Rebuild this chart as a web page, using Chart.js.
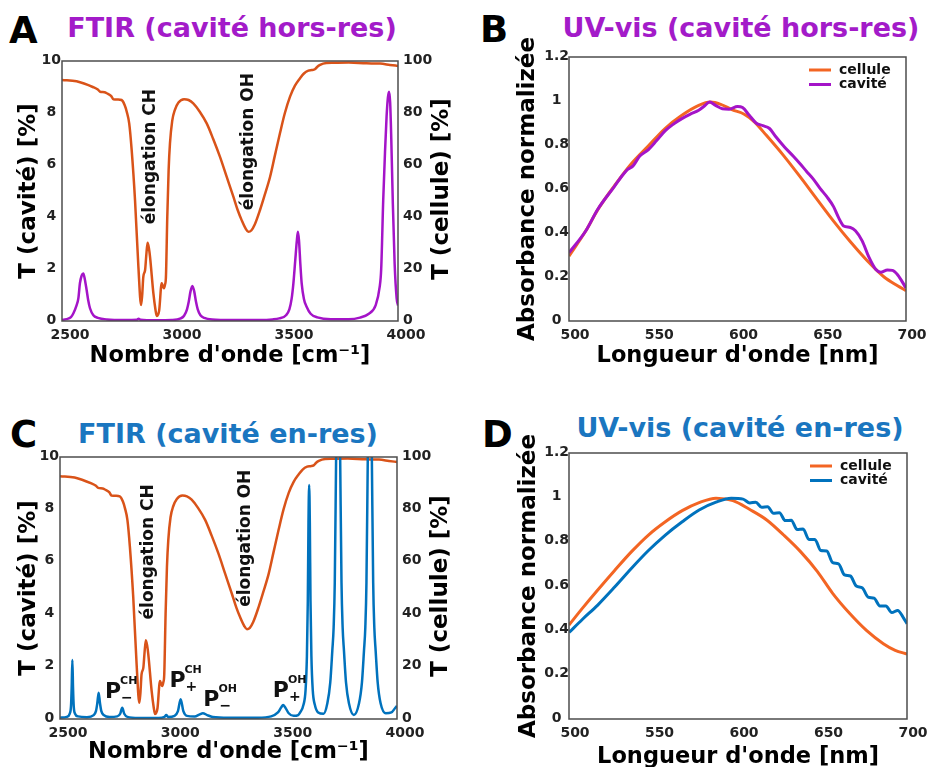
<!DOCTYPE html>
<html lang="fr">
<head>
<meta charset="utf-8">
<title>FTIR et UV-vis</title>
<script src="https://cdn.jsdelivr.net/npm/chart.js@4.4.1/dist/chart.umd.min.js"></script>
<style>
  html, body { margin: 0; padding: 0; background: #fff; }
  body { width: 929px; height: 767px; overflow: hidden; position: relative; font-family: "DejaVu Sans", sans-serif; }
  canvas, .lettre, .titre { position: absolute; }
  .lettre { font-weight: bold; font-size: 37px; line-height: 37px; color: #000; }
  .titre { font-weight: bold; font-size: 27px; line-height: 27px; width: 420px; text-align: center; white-space: nowrap; }
</style>
</head>
<body>
<div class="lettre" style="left:9px; top:12px">A</div>
<div class="titre" style="left:22px; top:14px; color:#a31bc9">FTIR (cavité hors-res)</div>
<div class="lettre" style="left:480px; top:11px">B</div>
<div class="titre" style="left:531px; top:14px; color:#a31bc9">UV-vis (cavité hors-res)</div>
<div class="lettre" style="left:10px; top:416px">C</div>
<div class="titre" style="left:18px; top:420px; color:#1a76c0">FTIR (cavité en-res)</div>
<div class="lettre" style="left:482px; top:416px">D</div>
<div class="titre" style="left:530px; top:414px; color:#1a76c0">UV-vis (cavité en-res)</div>

<canvas id="chartA" width="465" height="380" style="left:0; top:0"></canvas>
<canvas id="chartB" width="459" height="380" style="left:470px; top:0"></canvas>
<canvas id="chartC" width="465" height="380" style="left:0; top:400px"></canvas>
<canvas id="chartD" width="459" height="380" style="left:470px; top:400px"></canvas>

<script>
// FTIR cellule (axe de droite, %)
var ondeCellule = [2500, 2565, 2640, 2660, 2670, 2690, 2700, 2720, 2729, 2750, 2766, 2780, 2789, 2800, 2811, 2826, 2841, 2853, 2858, 2863, 2871, 2876, 2882, 2888, 2893, 2908, 2917, 2923, 2929, 2934, 2945, 2950, 2955, 2960, 2964, 2970, 2976, 2982, 2992, 3004, 3020, 3045, 3065, 3086, 3115, 3146, 3175, 3205, 3235, 3265, 3285, 3302, 3320, 3332, 3345, 3360, 3384, 3405, 3429, 3450, 3473, 3495, 3518, 3540, 3562, 3580, 3600, 3615, 3629, 3640, 3652, 3680, 3711, 3780, 3860, 3920, 3964, 4000];
var tCellule = [92.7, 92.2, 89.9, 89.0, 88.2, 88.0, 87.6, 86.5, 85.3, 85.2, 85.0, 83.0, 80.5, 76, 65.8, 46.5, 20.9, 6.2, 10, 17, 19.6, 25, 30.1, 28, 24.7, 10.6, 4.5, 1.9, 2.5, 4.2, 14.5, 13.5, 12.6, 14, 17, 40.1, 58, 68.3, 77, 81.2, 84, 85.3, 85, 83.7, 80.5, 76, 70, 63.2, 55.5, 47.8, 42.5, 38.8, 35.5, 34.3, 34.8, 37, 42.7, 48.5, 55.5, 63.5, 72.2, 80, 86.3, 90.5, 93.3, 95.2, 96.3, 96.5, 96.8, 97.8, 98.5, 99.2, 99.3, 99.4, 99.1, 99.0, 98.5, 98.1];

// FTIR cavité hors-res (axe de gauche)
var ondeHors = [2500, 2520, 2540, 2551, 2565, 2573, 2580, 2588, 2595, 2602, 2610, 2617, 2625, 2640, 2660, 2700, 2780, 2835, 2842, 2850, 2920, 2990, 3030, 3045, 3058, 3066, 3074, 3082, 3090, 3098, 3106, 3118, 3135, 3170, 3260, 3380, 3440, 3470, 3500, 3515, 3525, 3533, 3541, 3548, 3553, 3558, 3564, 3570, 3580, 3592, 3610, 3640, 3700, 3780, 3830, 3870, 3900, 3918, 3925, 3934, 3942, 3949, 3955, 3960, 3965, 3970, 3977, 3985, 3994, 4000];
var tHors = [0.04, 0.07, 0.15, 0.3, 0.6, 0.87, 1.45, 1.75, 1.83, 1.6, 1.19, 0.8, 0.49, 0.22, 0.12, 0.06, 0.04, 0.05, 0.09, 0.05, 0.03, 0.04, 0.1, 0.2, 0.45, 0.75, 1.15, 1.35, 1.15, 0.75, 0.45, 0.22, 0.12, 0.06, 0.04, 0.04, 0.06, 0.1, 0.22, 0.45, 0.85, 1.45, 2.3, 3.05, 3.43, 3.1, 2.2, 1.45, 0.85, 0.55, 0.28, 0.14, 0.07, 0.07, 0.13, 0.28, 0.6, 1.3, 2.0, 4.65, 6.5, 7.86, 8.6, 8.82, 8.4, 7.0, 4.5, 2.2, 0.87, 0.6];

// FTIR cavité en-res (axe de gauche)
var ondeEn = [2500, 2530, 2543, 2549, 2552, 2555, 2558, 2561, 2567, 2580, 2620, 2650, 2660, 2666, 2672, 2678, 2684, 2695, 2720, 2755, 2768, 2777, 2786, 2800, 2850, 2940, 2965, 2973, 2981, 3010, 3025, 3037, 3049, 3065, 3100, 3120, 3136, 3155, 3180, 3250, 3380, 3440, 3470, 3485, 3493, 3502, 3518, 3540, 3560, 3569, 3584, 3593, 3599, 3603, 3606, 3609, 3612, 3615, 3619, 3625, 3634, 3649, 3673, 3690, 3703, 3712, 3718, 3723, 3729, 3733, 3738, 3743, 3747, 3753, 3758, 3764, 3773, 3786, 3808, 3831, 3844, 3853, 3859, 3864, 3870, 3874, 3879, 3884, 3888, 3894, 3899, 3905, 3914, 3927, 3950, 3975, 3991, 4000];
var tEn = [0.05, 0.08, 0.2, 0.5, 1.2, 2.25, 1.2, 0.5, 0.2, 0.1, 0.07, 0.15, 0.3, 0.6, 1.0, 0.6, 0.3, 0.15, 0.08, 0.1, 0.2, 0.43, 0.2, 0.08, 0.04, 0.04, 0.08, 0.15, 0.08, 0.12, 0.3, 0.75, 0.3, 0.12, 0.1, 0.17, 0.22, 0.15, 0.08, 0.05, 0.05, 0.1, 0.25, 0.45, 0.53, 0.45, 0.22, 0.12, 0.15, 0.25, 0.55, 1.1, 2.4, 4.5, 7.5, 8.93, 7.5, 4.5, 2.4, 1.1, 0.55, 0.25, 0.2, 0.6, 1.4, 2.6, 3.5, 5.2, 10, 13, 15, 13, 10, 5.2, 3.5, 2.6, 1.4, 0.6, 0.15, 0.6, 1.4, 2.6, 3.5, 5.2, 10, 13, 15, 13, 10, 5.2, 3.5, 2.6, 1.4, 0.6, 0.22, 0.25, 0.41, 0.5];

// UV-vis hors-res
var lambdaCelluleB = [500, 510, 517, 527, 537, 547, 557, 567, 577, 584, 590, 597, 604, 610, 617, 627, 637, 647, 657, 667, 677, 687, 695, 700];
var absCelluleB = [0.295, 0.41, 0.505, 0.615, 0.715, 0.795, 0.875, 0.935, 0.98, 0.995, 0.985, 0.96, 0.94, 0.905, 0.845, 0.755, 0.657, 0.555, 0.454, 0.36, 0.274, 0.2, 0.16, 0.138];
var lambdaCaviteB = [500, 510, 517, 527, 532, 535, 538, 542, 547, 552, 557, 562, 567, 572, 577, 580, 583.5, 587, 591, 595, 600, 603, 607, 611, 615, 619, 623, 628, 633, 637, 641, 645, 649, 653, 657, 660, 663, 667, 670, 674, 678, 682, 685, 689, 692, 695, 700];
var absCaviteB = [0.31, 0.41, 0.507, 0.612, 0.665, 0.69, 0.705, 0.75, 0.778, 0.82, 0.864, 0.895, 0.92, 0.94, 0.958, 0.975, 0.995, 0.98, 0.965, 0.963, 0.975, 0.97, 0.935, 0.9, 0.888, 0.875, 0.835, 0.79, 0.75, 0.716, 0.68, 0.645, 0.603, 0.565, 0.52, 0.47, 0.432, 0.425, 0.41, 0.364, 0.29, 0.235, 0.222, 0.232, 0.23, 0.21, 0.15];

// UV-vis en-res
var lambdaCelluleD = [500, 508, 517, 527, 537, 547, 557, 567, 577, 587, 597, 607, 617, 627, 637, 647, 656, 666, 676, 686, 693, 700];
var absCelluleD = [0.424, 0.5, 0.582, 0.67, 0.755, 0.83, 0.89, 0.94, 0.976, 0.996, 0.985, 0.945, 0.898, 0.83, 0.755, 0.665, 0.567, 0.477, 0.4, 0.34, 0.31, 0.293];
var lambdaCaviteD = [500, 508, 517, 527, 537, 547, 557, 567, 577, 587, 596, 603, 607, 610.5, 614, 617.5, 621, 624.5, 628, 631.5, 635, 638.5, 642, 645.5, 649, 652.5, 656, 659.5, 663, 666.5, 670, 673.5, 677, 680.5, 684, 687.5, 691, 694.5, 698, 700];
var absCaviteD = [0.39, 0.45, 0.514, 0.595, 0.68, 0.76, 0.83, 0.89, 0.943, 0.978, 0.996, 0.992, 0.975, 0.978, 0.955, 0.958, 0.928, 0.93, 0.895, 0.897, 0.855, 0.857, 0.81, 0.81, 0.76, 0.758, 0.705, 0.7, 0.65, 0.645, 0.6, 0.592, 0.55, 0.545, 0.51, 0.51, 0.48, 0.49, 0.455, 0.43];

// graduations
var ticksOnde = [2500, 3000, 3500, 4000];
var ticksCavite = [0, 2, 4, 6, 8, 10];
var ticksCellule = [0, 20, 40, 60, 80, 100];
var ticksLambda = [500, 550, 600, 650, 700];
var ticksAbs = [0, 0.2, 0.4, 0.6, 0.8, 1, 1.2];

// textes sur les spectres
var notesIR_A = [{ x: 2896, y: 6.32, texte: 'élongation CH' }, { x: 3332, y: 6.9, texte: 'élongation OH' }];
var notesIR_C = [{ x: 2896, y: 6.38, texte: 'élongation CH' }, { x: 3328, y: 6.9, texte: 'élongation OH' }];
var picsC = [
    { x: 2700, y: 0.80, haut: 'CH', bas: '−' },
    { x: 2987, y: 1.22, haut: 'CH', bas: '+' },
    { x: 3138, y: 0.50, haut: 'OH', bas: '−' },
    { x: 3447, y: 0.84, haut: 'OH', bas: '+' }
];

var orangeIR = '#d95319';
var orangeUV = '#f36523';
var violet = '#a414c8';
var bleu = '#0072bd';

Chart.defaults.font.family = 'DejaVu Sans';

function police(taille) {
    return { family: 'DejaVu Sans', size: taille, weight: 'bold' };
}

function points(xs, ys) {
    return xs.map(function(x, i) { return { x: x, y: ys[i] }; });
}

function axeX(ticks, min, max, titre, hauteur, pb, decal) {
    return {
        type: 'linear', min: min, max: max,
        afterBuildTicks: function(s) { s.ticks = ticks.map(function(v) { return { value: v }; }); },
        afterFit: function(s) { s.height = hauteur; },
        grid: { display: false, drawTicks: false },
        border: { display: false },
        ticks: { font: police(14), color: '#222', padding: 6, labelOffset: decal, maxRotation: 0, autoSkip: false,
            callback: function(v) { return String(v); } },
        title: { display: true, text: titre, font: police(22.5), color: '#000', padding: { top: 0, bottom: pb } }
    };
}

function axeY(ticks, min, max, o) {
    return {
        type: 'linear', position: o.position || 'left', min: min, max: max,
        afterBuildTicks: function(s) { s.ticks = ticks.map(function(v) { return { value: v }; }); },
        afterFit: function(s) { s.width = o.largeur; },
        grid: { display: false, drawTicks: false },
        border: { display: false },
        ticks: { font: police(14), color: '#222', padding: o.pad, crossAlign: o.align, labelOffset: -1, autoSkip: false,
            callback: function(v) { return String(v); } },
        title: { display: !!o.titre, text: o.titre || '', font: police(23), color: '#000', padding: { top: o.pt || 0, bottom: 0 } }
    };
}

// cadre, annotations, titre de droite et legende
function habillage(cfg) {
    return {
        id: 'habillage',
        afterDatasetsDraw: function(chart) {
            var ctx = chart.ctx;
            var a = chart.chartArea;
            var sx = chart.scales.x, sy = chart.scales.y;
            ctx.save();
            ctx.strokeStyle = '#4d4d4d';
            ctx.lineWidth = 1.5;
            ctx.strokeRect(a.left, a.top, a.right - a.left, a.bottom - a.top);
            ctx.fillStyle = '#111';

            (cfg.notes || []).forEach(function(n) {
                ctx.save();
                ctx.translate(sx.getPixelForValue(n.x), sy.getPixelForValue(n.y));
                ctx.rotate(-Math.PI / 2);
                ctx.font = 'bold 17px "DejaVu Sans"';
                ctx.textAlign = 'center';
                ctx.textBaseline = 'middle';
                ctx.fillText(n.texte, 0, 0);
                ctx.restore();
            });

            (cfg.pics || []).forEach(function(p) {
                var x = sx.getPixelForValue(p.x), y = sy.getPixelForValue(p.y);
                ctx.textAlign = 'left';
                ctx.textBaseline = 'alphabetic';
                ctx.font = 'bold 22px "DejaVu Sans"';
                ctx.fillText('P', x, y);
                var w = ctx.measureText('P').width;
                ctx.font = 'bold 11px "DejaVu Sans"';
                ctx.fillText(p.haut, x + w - 1, y - 14);
                ctx.font = 'bold 14px "DejaVu Sans"';
                ctx.textBaseline = 'middle';
                ctx.fillText(p.bas, x + w, y);
            });

            if (cfg.titreDroite) {
                ctx.save();
                ctx.translate(a.right + 44, (a.top + a.bottom) / 2 - 2);
                ctx.rotate(-Math.PI / 2);
                ctx.font = 'bold 23px "DejaVu Sans"';
                ctx.fillStyle = '#000';
                ctx.textAlign = 'center';
                ctx.textBaseline = 'middle';
                ctx.fillText(cfg.titreDroite, 0, 0);
                ctx.restore();
            }

            if (cfg.legende) {
                ctx.font = 'bold 14px "DejaVu Sans"';
                ctx.textAlign = 'left';
                ctx.textBaseline = 'middle';
                cfg.legende.forEach(function(i, k) {
                    var ds = chart.data.datasets[i];
                    var y = a.top + 13 + k * 14.5;
                    ctx.strokeStyle = ds.borderColor;
                    ctx.lineWidth = 3;
                    ctx.beginPath();
                    ctx.moveTo(a.right - 97, y);
                    ctx.lineTo(a.right - 75, y);
                    ctx.stroke();
                    ctx.fillStyle = '#111';
                    ctx.fillText(ds.label, a.right - 67, y);
                });
            }
            ctx.restore();
        }
    };
}

function graphiqueIR(id, onde, tCav, couleur, notes, pics, t) {
    new Chart(document.getElementById(id), {
        type: 'line',
        data: {
            datasets: [
                { label: 'cavité', data: points(onde, tCav), borderColor: couleur, borderWidth: 2.5, yAxisID: 'y' },
                { label: 'cellule', data: points(ondeCellule, tCellule), borderColor: orangeIR, borderWidth: 2.5, yAxisID: 'y2' }
            ]
        },
        options: {
            responsive: false, animation: false, devicePixelRatio: 1,
            layout: { padding: { top: t.haut, right: 0, left: 0, bottom: 0 } },
            elements: { point: { radius: 0 }, line: { cubicInterpolationMode: 'monotone' } },
            plugins: { legend: { display: false }, tooltip: { enabled: false } },
            scales: {
                x: axeX(ticksOnde, 2500, 4000, "Nombre d'onde [cm⁻¹]", t.hx, t.pb, 8),
                y: axeY(ticksCavite, 0, 10, { largeur: t.g, pad: 1, align: 'center', titre: 'T (cavité) [%]', pt: 15 }),
                y2: axeY(ticksCellule, 0, 100, { position: 'right', largeur: t.d, pad: 5, align: 'near' })
            }
        },
        plugins: [habillage({ notes: notes, pics: pics, titreDroite: 'T (cellule) [%]' })]
    });
}

function graphiqueUV(id, lc, ac, lv, av, couleur, t) {
    new Chart(document.getElementById(id), {
        type: 'line',
        data: {
            datasets: [
                { label: 'cavité', data: points(lv, av), borderColor: couleur, borderWidth: 3 },
                { label: 'cellule', data: points(lc, ac), borderColor: orangeUV, borderWidth: 3 }
            ]
        },
        options: {
            responsive: false, animation: false, devicePixelRatio: 1,
            layout: { padding: { top: t.haut, right: t.droite, left: 0, bottom: 0 } },
            elements: { point: { radius: 0 }, line: { cubicInterpolationMode: 'monotone' } },
            plugins: { legend: { display: false }, tooltip: { enabled: false } },
            scales: {
                x: axeX(ticksLambda, 500, 700, "Longueur d'onde [nm]", t.hx, t.pb, 6),
                y: axeY(ticksAbs, 0, 1.2, { largeur: 99, pad: 0, align: 'center', titre: 'Absorbance normalizée', pt: t.pt })
            }
        },
        plugins: [habillage({ legende: [1, 0] })]
    });
}

graphiqueIR('chartA', ondeHors, tHors, violet, notesIR_A, [], { haut: 61, hx: 59, pb: 10, g: 62, d: 67 });
graphiqueIR('chartC', ondeEn, tEn, bleu, notesIR_C, picsC, { haut: 57, hx: 61, pb: 14, g: 60, d: 68 });
graphiqueUV('chartB', lambdaCelluleB, absCelluleB, lambdaCaviteB, absCaviteB, violet, { haut: 57, droite: 23, hx: 59, pb: 10, pt: 44 });
graphiqueUV('chartD', lambdaCelluleD, absCelluleD, lambdaCaviteD, absCaviteD, bleu, { haut: 53, droite: 22, hx: 61, pb: 9, pt: 45 });
</script>
</body>
</html>
